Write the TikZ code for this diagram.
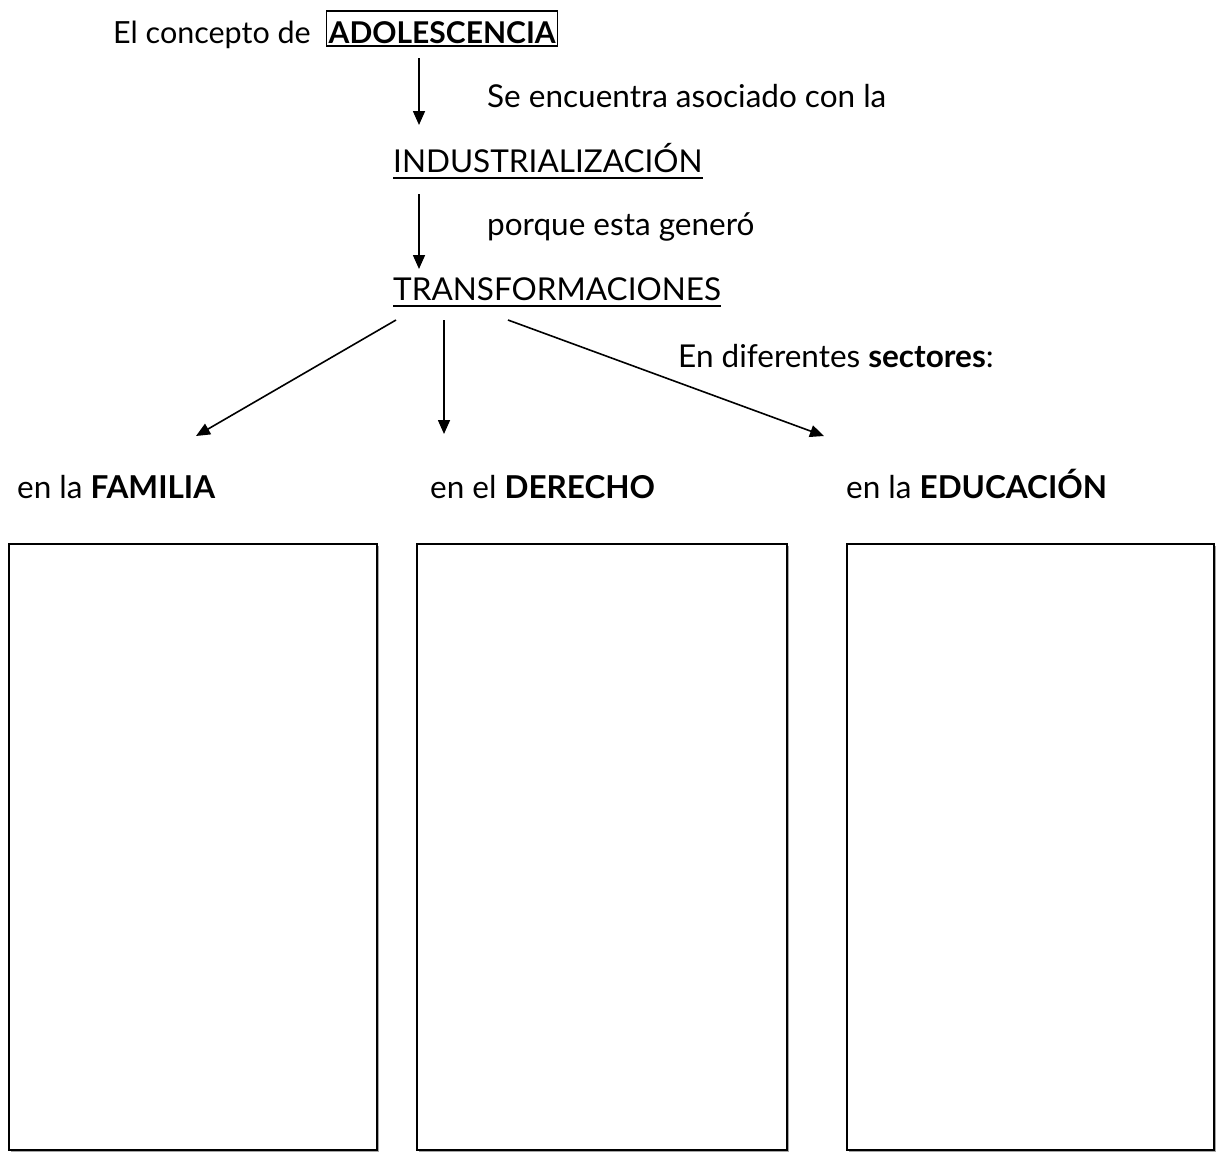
\documentclass[tikz,border=0pt]{standalone}
\usepackage{fontspec}
\setmainfont{Lato}
\usetikzlibrary{arrows.meta,shadows}
\begin{document}
\begin{tikzpicture}[x=1pt,y=-1pt,
  txt/.style={font=\fontsize{31.5}{33}\selectfont, inner sep=0pt, anchor=base west},
  arr/.style={line width=1.6pt, -{Triangle[length=14pt,width=12pt]}},
  bigbox/.style={draw, line width=1.6pt, fill=white, anchor=north west,
    drop shadow={shadow xshift=2pt, shadow yshift=-2pt, fill=gray!70, opacity=1}},
  ul/.style={line width=1.4pt}]
\useasboundingbox (0,0) rectangle (1217,1152);
% top
\node[txt, font=\fontsize{30.5}{33}\selectfont] (concepto) at (113,43) {El concepto de};
\node[txt, draw, line width=1.4pt, inner xsep=2pt, inner ysep=3pt, text height=29pt, text depth=0pt, font=\fontsize{30}{33}\selectfont\bfseries] (adol) at (326,43) {ADOLESCENCIA};
\node[txt] (asoc) at (487,107) {Se encuentra asociado con la};
\node[txt] (ind) at (393,172) {INDUSTRIALIZACIÓN};
\draw[ul] ([yshift=-6pt]ind.base west) -- ([yshift=-6pt]ind.base east);
\node[txt] (porque) at (487,235) {porque esta generó};
\node[txt] (trans) at (393,300) {TRANSFORMACIONES};
\draw[ul] ([yshift=-6pt]trans.base west) -- ([yshift=-6pt]trans.base east);
\node[txt] (sect) at (678,367) {En diferentes \textbf{sectores}:};
% arrow coordinates
\coordinate (a1s) at (419,58);  \coordinate (a1e) at (419,125);
\coordinate (a2s) at (419,194); \coordinate (a2e) at (419,269);
\coordinate (b1s) at (396,320); \coordinate (b1e) at (196,436);
\coordinate (b2s) at (444,320); \coordinate (b2e) at (444,434);
\coordinate (b3s) at (508,320); \coordinate (b3e) at (824,436);
\draw[arr] (a1s) -- (a1e);
\draw[arr] (a2s) -- (a2e);
\draw[arr] (b1s) -- (b1e);
\draw[arr] (b2s) -- (b2e);
\draw[arr] (b3s) -- (b3e);
% sector labels
\node[txt] (fam) at (17,498) {en la \textbf{FAMILIA}};
\node[txt] (der) at (430,498) {en el \textbf{DERECHO}};
\node[txt] (edu) at (846,498) {en la \textbf{EDUCACIÓN}};
% boxes
\node[bigbox, minimum width=368pt, minimum height=606pt] (box1) at (8,543) {};
\node[bigbox, minimum width=370pt, minimum height=606pt] (box2) at (416,543) {};
\node[bigbox, minimum width=367pt, minimum height=606pt] (box3) at (846,543) {};
\end{tikzpicture}
\end{document}
